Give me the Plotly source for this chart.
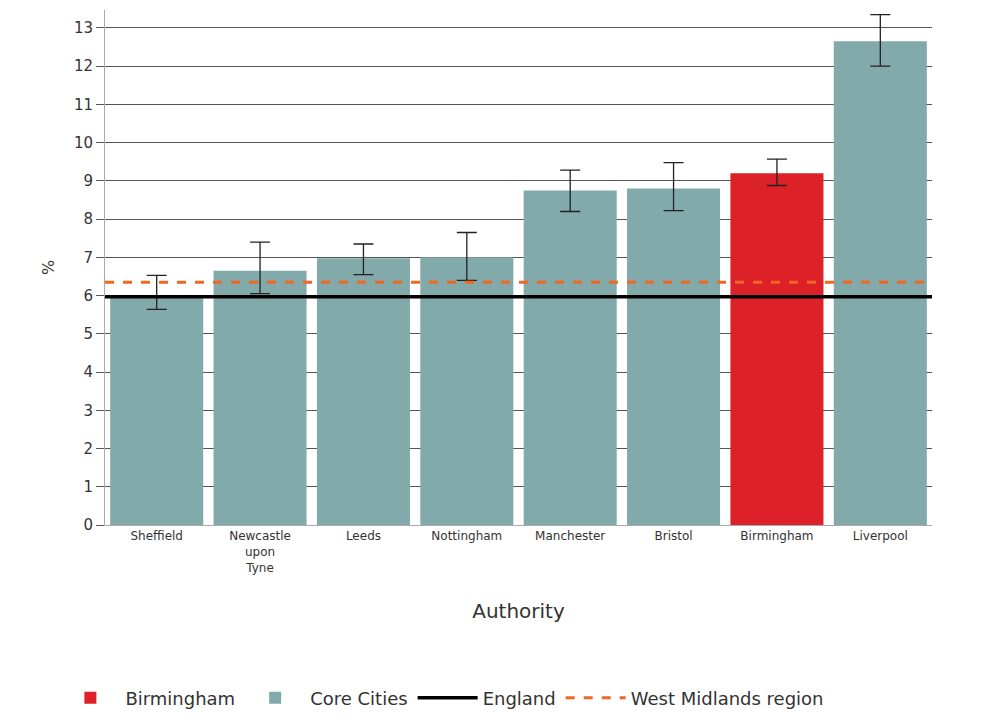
import plotly.graph_objects as go

authorities = ["Sheffield", "Newcastle<br>upon<br>Tyne", "Leeds", "Nottingham", "Manchester", "Bristol", "Birmingham", "Liverpool"]
values = [5.98, 6.65, 6.98, 7.0, 8.75, 8.8, 9.2, 12.65]
upper = [6.53, 7.4, 7.35, 7.65, 9.28, 9.48, 9.57, 13.35]
lower = [5.64, 6.05, 6.55, 6.4, 8.2, 8.22, 8.88, 12.0]
england = 5.97
west_midlands = 6.35

teal = "#82aaab"
red = "#dc2128"
core_idx = [i for i, a in enumerate(authorities) if a != "Birmingham"]
bham_idx = [i for i, a in enumerate(authorities) if a == "Birmingham"]

def trace(idx, name, color):
    return go.Bar(
        x=[authorities[i] for i in idx], y=[values[i] for i in idx], name=name,
        marker=dict(color=color, line=dict(width=0)),
        error_y=dict(type="data", symmetric=False,
                     array=[upper[i] - values[i] for i in idx],
                     arrayminus=[values[i] - lower[i] for i in idx],
                     color="#222", thickness=1.3, width=10))

fig = go.Figure()
fig.add_trace(trace(bham_idx, "Birmingham", red))
fig.add_trace(trace(core_idx, "Core Cities", teal))
fig.add_trace(go.Scatter(x=[-0.5, 7.5], y=[england, england], mode="lines", name="England",
                         line=dict(color="black", width=3.5), xaxis="x2"))
fig.add_trace(go.Scatter(x=[-0.5, 7.5], y=[west_midlands, west_midlands], mode="lines",
                         name="West Midlands region",
                         line=dict(color="#f26522", width=3, dash="dash"), xaxis="x2"))

fig.update_layout(
    width=1000, height=722, plot_bgcolor="white", paper_bgcolor="white",
    margin=dict(l=97, r=76, t=2, b=205, autoexpand=False),
    font=dict(family="DejaVu Sans", color="#333"),
    bargap=0.1, barmode="overlay",
    xaxis=dict(categoryorder="array", categoryarray=authorities, title=dict(text="Authority", font=dict(size=20), standoff=30),
               tickfont=dict(size=12), showline=True, linecolor="#aaa", ticks="", range=[-0.5, 7.5]),
    xaxis2=dict(overlaying="x", range=[-0.5, 7.5], visible=False),
    yaxis=dict(title=dict(text="%", font=dict(size=16)), range=[0, 13.47], dtick=1,
               gridcolor="#555", gridwidth=1, ticks="outside", ticklen=8, tickcolor="#555",
               tickfont=dict(size=15), zeroline=False, showline=True, linecolor="#aaa"),
    legend=dict(orientation="h", x=-0.06, y=-0.3, xanchor="left", yanchor="top",
                font=dict(size=18), traceorder="normal", itemwidth=60),
)
fig.write_html("out.html")
